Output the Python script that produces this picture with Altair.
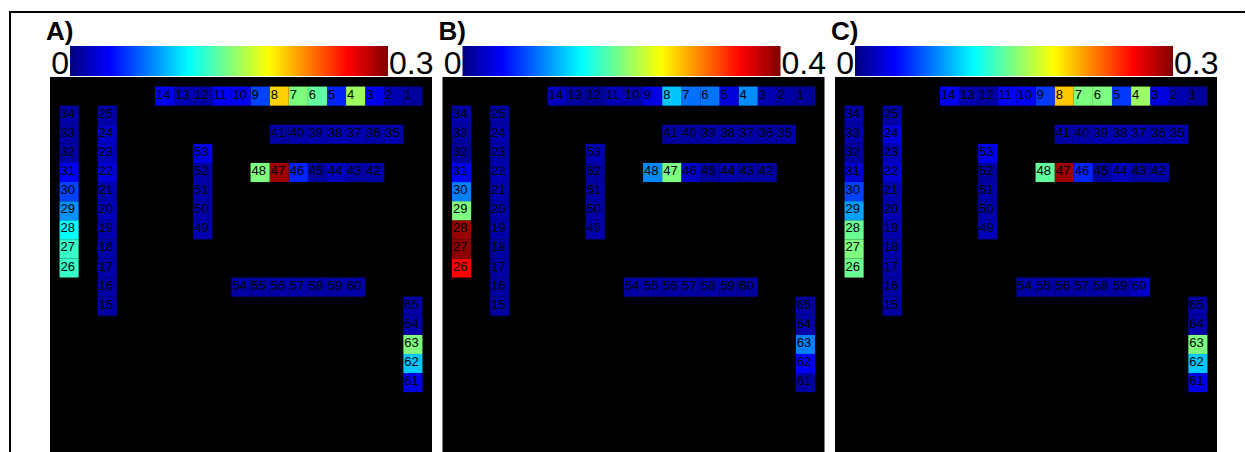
import altair as alt
import pandas as pd

# ---------------- data ----------------
panel_titles = ["A)", "B)", "C)"]
scale_max = [0.3, 0.4, 0.3]
scale_max_labels = ["0.3", "0.4", "0.3"]

cell_id = [1, 2, 3, 4, 5, 6, 7, 8, 9, 10, 11, 12, 13, 14,
           15, 16, 17, 18, 19, 20, 21, 22, 23, 24, 25,
           26, 27, 28, 29, 30, 31, 32, 33, 34,
           35, 36, 37, 38, 39, 40, 41,
           42, 43, 44, 45, 46, 47, 48,
           49, 50, 51, 52, 53,
           54, 55, 56, 57, 58, 59, 60,
           61, 62, 63, 64, 65]

# grid column / row of every cell (categorical positions of the sensor map)
cell_col = [18, 17, 16, 15, 14, 13, 12, 11, 10, 9, 8, 7, 6, 5,
            2, 2, 2, 2, 2, 2, 2, 2, 2, 2, 2,
            0, 0, 0, 0, 0, 0, 0, 0, 0,
            17, 16, 15, 14, 13, 12, 11,
            16, 15, 14, 13, 12, 11, 10,
            7, 7, 7, 7, 7,
            9, 10, 11, 12, 13, 14, 15,
            18, 18, 18, 18, 18]
cell_row = [0, 0, 0, 0, 0, 0, 0, 0, 0, 0, 0, 0, 0, 0,
            11, 10, 9, 8, 7, 6, 5, 4, 3, 2, 1,
            9, 8, 7, 6, 5, 4, 3, 2, 1,
            2, 2, 2, 2, 2, 2, 2,
            4, 4, 4, 4, 4, 4, 4,
            7, 6, 5, 4, 3,
            10, 10, 10, 10, 10, 10, 10,
            15, 14, 13, 12, 11]

values_A = [0.009, 0.015, 0.033, 0.159, 0.048, 0.141, 0.150, 0.201, 0.057, 0.033, 0.036, 0.011, 0.015, 0.033,
            0.011, 0.011, 0.012, 0.012, 0.014, 0.017, 0.014, 0.027, 0.018, 0.021, 0.012,
            0.129, 0.129, 0.113, 0.081, 0.057, 0.036, 0.011, 0.011, 0.012,
            0.014, 0.012, 0.014, 0.014, 0.014, 0.012, 0.011,
            0.012, 0.011, 0.018, 0.009, 0.048, 0.291, 0.150,
            0.014, 0.012, 0.012, 0.011, 0.030,
            0.011, 0.011, 0.011, 0.011, 0.011, 0.011, 0.012,
            0.030, 0.096, 0.150, 0.012, 0.011]

values_B = [0.010, 0.013, 0.019, 0.106, 0.035, 0.096, 0.094, 0.128, 0.038, 0.019, 0.022, 0.010, 0.013, 0.025,
            0.014, 0.014, 0.014, 0.014, 0.016, 0.016, 0.016, 0.020, 0.016, 0.018, 0.014,
            0.350, 0.394, 0.390, 0.200, 0.100, 0.044, 0.010, 0.013, 0.016,
            0.014, 0.014, 0.016, 0.016, 0.016, 0.014, 0.013,
            0.014, 0.014, 0.018, 0.012, 0.028, 0.200, 0.104,
            0.018, 0.014, 0.014, 0.012, 0.020,
            0.014, 0.014, 0.014, 0.014, 0.014, 0.014, 0.014,
            0.014, 0.048, 0.100, 0.016, 0.014]

values_C = [0.008, 0.014, 0.028, 0.159, 0.054, 0.150, 0.150, 0.204, 0.054, 0.036, 0.038, 0.010, 0.014, 0.033,
            0.011, 0.011, 0.012, 0.012, 0.014, 0.015, 0.014, 0.024, 0.017, 0.026, 0.012,
            0.144, 0.150, 0.144, 0.084, 0.057, 0.023, 0.010, 0.012, 0.012,
            0.014, 0.012, 0.014, 0.014, 0.014, 0.012, 0.011,
            0.012, 0.010, 0.018, 0.008, 0.048, 0.291, 0.141,
            0.017, 0.012, 0.012, 0.008, 0.033,
            0.011, 0.011, 0.011, 0.011, 0.011, 0.011, 0.020,
            0.030, 0.096, 0.150, 0.012, 0.011]

panel_values = [values_A, values_B, values_C]

# jet colour map
jet_stops = [0, 0.125, 0.25, 0.375, 0.5, 0.625, 0.75, 0.875, 1]
jet_colors = ["#00007f", "#0000ff", "#007fff", "#00ffff", "#7fff7f",
              "#ffff00", "#ff7f00", "#ff0000", "#7f0000"]

# ---------------- styles / layout ----------------
FONT = "Liberation Sans"
PANEL_W = 382
GRID_H = 376
CELL = PANEL_W / 20.0
HEADER_H = 30
# colour bar occupies pixels 20..338 of the 382-px panel width
hdom = [-20 / 318, 362 / 318]

cscale = alt.Scale(domain=jet_stops, range=jet_colors, interpolate="rgb", clamp=True)


def panel(i, with_border):
    # --- sensor grid ---
    df = pd.DataFrame({"id": cell_id, "col": cell_col, "row": cell_row, "v": panel_values[i]})
    df["t"] = df["v"] / scale_max[i]
    df["x0"] = df["col"] - 0.5
    df["x1"] = df["col"] + 0.5
    df["y0"] = df["row"] - 0.5
    df["y1"] = df["row"] + 0.5
    base = alt.Chart(df)
    xs = alt.Scale(domain=[-1.0, 19.0], nice=False, zero=False)
    ys = alt.Scale(domain=[-1.0, -1.0 + GRID_H / CELL], nice=False, zero=False, reverse=True)
    rects = base.mark_rect(strokeWidth=0).encode(
        x=alt.X("x0:Q", scale=xs, axis=None), x2="x1:Q",
        y=alt.Y("y0:Q", scale=ys, axis=None), y2="y1:Q",
        color=alt.Color("t:Q", scale=cscale, legend=None),
    )
    texts = base.mark_text(align="left", baseline="alphabetic", dx=1, dy=2.5, font=FONT,
                           fontSize=13, color="black").encode(
        x=alt.X("x0:Q", scale=xs, axis=None), y=alt.Y("row:Q", scale=ys, axis=None), text="id:N")

    # --- colour bar header (drawn above the grid) ---
    d = pd.DataFrame({"title": [panel_titles[i]], "lo": ["0"], "hi": [scale_max_labels[i]]})
    hb = alt.Chart(d)
    grad = alt.Gradient(
        gradient="linear",
        stops=[alt.GradientStop(color=c, offset=o) for o, c in zip(jet_stops, jet_colors)],
        x1=0, x2=1, y1=0, y2=0,
    )
    hscale = alt.Scale(domain=hdom, nice=False, zero=False)
    bar = hb.mark_rect(fill=grad).encode(
        x=alt.XDatum(0.0, scale=hscale, axis=None), x2=alt.X2Datum(1.0),
        y=alt.value(-HEADER_H - 1), y2=alt.value(-1))
    lo = hb.mark_text(align="right", baseline="alphabetic", dx=-1, font=FONT,
                      fontSize=32, color="black").encode(
        x=alt.XDatum(0.0, scale=hscale, axis=None), y=alt.value(-3), text="lo:N")
    hi = hb.mark_text(align="left", baseline="alphabetic", dx=1, font=FONT,
                      fontSize=32, color="black").encode(
        x=alt.XDatum(1.0, scale=hscale, axis=None), y=alt.value(-3), text="hi:N")
    ttl = hb.mark_text(align="left", baseline="alphabetic", font=FONT,
                       fontWeight="bold", fontSize=26, color="black").encode(
        x=alt.value(-4), y=alt.value(-37), text="title:N")
    layers = [rects, texts, bar, lo, hi, ttl]
    if with_border:
        top = hb.mark_rule(color="black", strokeWidth=2).encode(
            x=alt.value(-41), x2=alt.value(1195), y=alt.value(-65))
        left = hb.mark_rule(color="black", strokeWidth=2).encode(
            x=alt.value(-40), y=alt.value(-66), y2=alt.value(GRID_H))
        layers += [top, left]
    return alt.layer(*layers).resolve_scale(x="independent").properties(
        width=PANEL_W, height=GRID_H, view=alt.ViewBackground(fill="black"))


chart = alt.hconcat(*[panel(i, i == 0) for i in range(3)], spacing=10.5, bounds="flush").properties(
    padding={"left": 8, "top": 10, "right": 0, "bottom": 0},
    background="white",
).configure_view(strokeWidth=0)

chart.save("out.html", embed_options={"renderer": "svg", "actions": False})
